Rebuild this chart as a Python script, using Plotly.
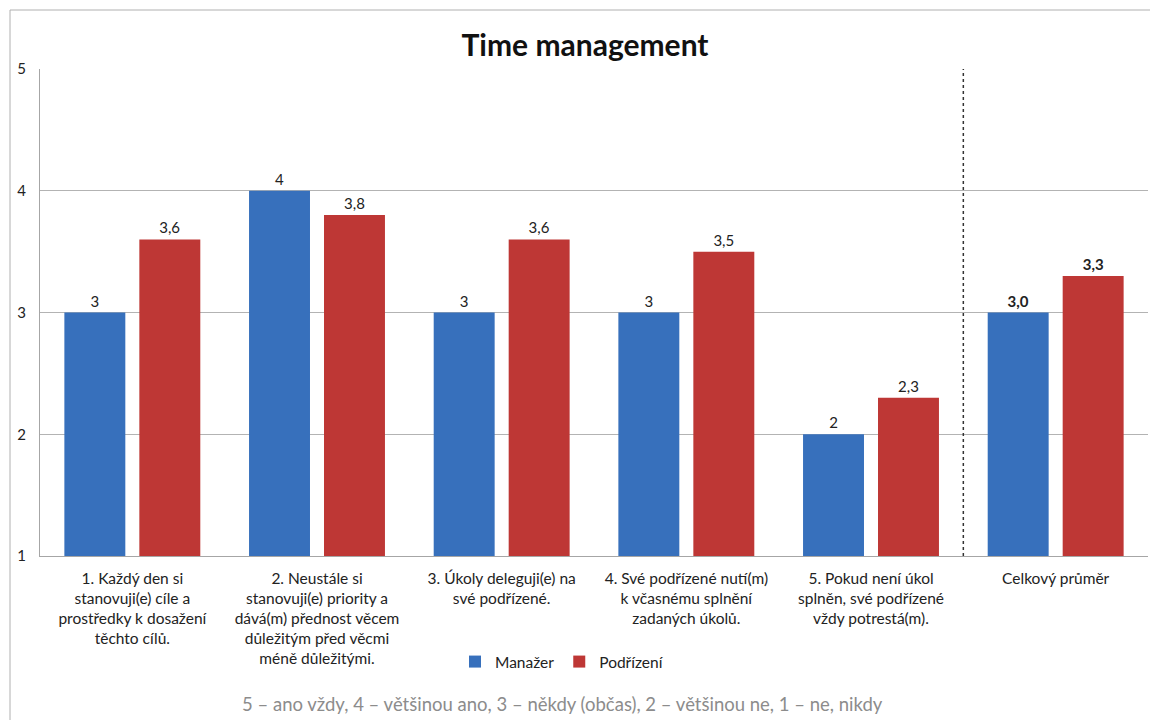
import plotly.graph_objects as go

# Survey statements (category axis) and mean scores per group
categories = [
    "1. Každý den si<br>stanovuji(e) cíle a<br>prostředky k dosažení<br>těchto cílů.",
    "2. Neustále si<br>stanovuji(e) priority a<br>dává(m) přednost věcem<br>důležitým před věcmi<br>méně důležitými.",
    "3. Úkoly deleguji(e) na<br>své podřízené.",
    "4. Své podřízené nutí(m)<br>k včasnému splnění<br>zadaných úkolů.",
    "5. Pokud není úkol<br>splněn, své podřízené<br>vždy potrestá(m).",
    "Celkový průměr",
]
manazer = [3, 4, 3, 3, 2, 3.0]
podrizeni = [3.6, 3.8, 3.6, 3.5, 2.3, 3.3]
y_ticks = [1, 2, 3, 4, 5]
footer = "5 – ano vždy, 4 – většinou ano, 3 – někdy (občas), 2 – většinou ne, 1 – ne, nikdy"

FONT = "Lato, 'Open Sans', sans-serif"
BLUE = "#3770BC"
RED = "#BE3735"

x_pos = list(range(len(categories)))
n_q = len(categories) - 1


def labels(values):
    out = []
    for i, v in enumerate(values):
        if i < n_q:
            out.append(f"{v:g}".replace(".", ","))
        else:
            out.append("<b>" + f"{v:.1f}".replace(".", ",") + "</b>")
    return out


fig = go.Figure()
fig.add_trace(go.Bar(
    x=x_pos, y=manazer, base=0, name="Manažer",
    marker=dict(color=BLUE, line=dict(width=0)),
    text=labels(manazer), textposition="outside",
    textfont=dict(size=15, color="#222222", family=FONT),
    cliponaxis=False,
))
fig.add_trace(go.Bar(
    x=x_pos, y=podrizeni, base=0, name="Podřízení",
    marker=dict(color=RED, line=dict(width=0)),
    text=labels(podrizeni), textposition="outside",
    textfont=dict(size=15, color="#222222", family=FONT),
    cliponaxis=False,
))

# plot area geometry in pixels (used to place paper-referenced decorations)
W, H = 1150, 720
ML, MR, MT, MB = 40, 2, 69, 164
pw, ph = W - ML - MR, H - MT - MB


def px_x(px):
    return (px - ML) / pw


def px_y(py):
    return (H - MB - py) / ph


fig.update_layout(
    width=W, height=H,
    margin=dict(l=ML, r=MR, t=MT, b=MB),
    paper_bgcolor="white", plot_bgcolor="white",
    font=dict(family=FONT, size=15, color="#222222"),
    barmode="group", bargap=0.188, bargroupgap=0.187,
    title=dict(
        text="<b>Time management</b>", x=585 / W,
        xanchor="center",
        y=1 - 45 / H, yanchor="middle", yref="container",
        font=dict(size=30, color="#111111", family=FONT),
    ),
    xaxis=dict(
        range=[-0.5, len(categories) - 0.5],
        tickvals=x_pos, ticktext=categories,
        tickfont=dict(size=15.5, color="#222222"),
        showgrid=False, showline=True, linecolor="#a6a6a6", linewidth=1,
        ticks="", ticklabelstandoff=8, zeroline=False, tickangle=0,
    ),
    yaxis=dict(
        range=[1, 5], tickvals=y_ticks,
        tickfont=dict(size=15, color="#222222"),
        showgrid=True, gridcolor="#b3b3b3", gridwidth=1,
        showline=True, linecolor="#a6a6a6", linewidth=1,
        ticks="", ticklabelstandoff=10, zeroline=False,
    ),
    legend=dict(
        orientation="h", x=px_x(562), xanchor="center",
        y=px_y(662), yanchor="middle",
        font=dict(size=15.5, color="#222222"),
        itemwidth=30, tracegroupgap=0,
    ),
    showlegend=True,
)

# dotted separator between statements and the overall average
fig.add_shape(
    type="line", xref="x", yref="y",
    x0=n_q - 0.5, x1=n_q - 0.5, y0=1, y1=5,
    line=dict(color="#333333", width=1.5, dash="dot"),
)

# chart frame
fig.add_shape(
    type="rect", xref="paper", yref="paper",
    x0=px_x(10), x1=px_x(W + 5), y0=px_y(H + 5), y1=px_y(10),
    line=dict(color="#b0b0b0", width=1), layer="below",
)

fig.add_annotation(
    text=footer, xref="paper", yref="paper",
    x=px_x(562), y=px_y(704), xanchor="center", yanchor="middle",
    showarrow=False, font=dict(size=18.5, color="#8c8c8c"),
)

fig.write_html("out.html")
